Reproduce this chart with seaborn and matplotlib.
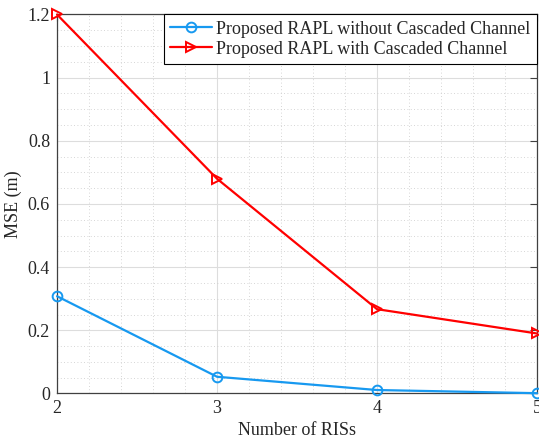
import numpy as np
import pandas as pd
import seaborn as sns
import matplotlib.pyplot as plt
from matplotlib.ticker import MultipleLocator, FormatStrFormatter

# dados
n_ris = [2, 3, 4, 5]
mse_sem = [0.308, 0.053, 0.011, 0.001]
mse_com = [1.20, 0.68, 0.267, 0.19]
rotulo_sem = "Proposed RAPL without Cascaded Channel"
rotulo_com = "Proposed RAPL with Cascaded Channel"

df = pd.DataFrame({
    "ris": n_ris * 2,
    "mse": mse_sem + mse_com,
    "metodo": [rotulo_sem] * 4 + [rotulo_com] * 4,
})

sns.set_style("white")
plt.rcParams['font.family'] = ['Liberation Serif', 'DejaVu Serif']

fig = plt.figure(figsize=(5.39, 4.38), dpi=100)
ax = fig.add_axes([0.1058, 0.1016, 0.8905, 0.8653])

cores = {rotulo_sem: "#1799F0", rotulo_com: "#FF0000"}
marcadores = {rotulo_sem: "o", rotulo_com: ">"}
for nome in [rotulo_sem, rotulo_com]:
    sub = df[df["metodo"] == nome]
    sns.lineplot(data=sub, x="ris", y="mse", ax=ax, color=cores[nome],
                 marker=marcadores[nome], markersize=7, markerfacecolor="none",
                 markeredgecolor=cores[nome], markeredgewidth=1.4,
                 linewidth=1.6, label=nome, clip_on=False, zorder=5)

ax.set_xlim(2, 5)
ax.set_ylim(0, 1.2)
ax.xaxis.set_major_locator(MultipleLocator(1))
ax.xaxis.set_minor_locator(MultipleLocator(0.2))
ax.yaxis.set_major_locator(MultipleLocator(0.2))
ax.yaxis.set_minor_locator(MultipleLocator(0.05))
ax.yaxis.set_major_formatter(FormatStrFormatter('%g'))

ax.grid(which="major", color="#DDDDDD", linewidth=0.8, linestyle="-")
ax.grid(which="minor", color="#C8C8C8", linewidth=0.6, linestyle=(0, (1, 3)))
ax.set_axisbelow(True)

for s in ax.spines.values():
    s.set_visible(True)
    s.set_color("#404040")
    s.set_linewidth(0.9)

ax.tick_params(which="major", direction="in", length=5, width=0.8, color="#404040",
               top=True, right=True, labelsize=13, labelcolor="#262626", pad=5)
ax.tick_params(which="minor", length=0)

ax.set_xlabel("Number of RISs", fontsize=13, color="#262626", labelpad=3)
ax.set_ylabel("MSE (m)", fontsize=13, color="#262626", labelpad=4)

leg = ax.legend(loc="upper right", borderaxespad=0, fancybox=False,
                edgecolor="black", framealpha=1, fontsize=13,
                handlelength=2.3, handletextpad=0.25, borderpad=0.35,
                labelspacing=0.15)
leg.get_frame().set_linewidth(0.8)

plt.savefig("out.png", dpi=100)
